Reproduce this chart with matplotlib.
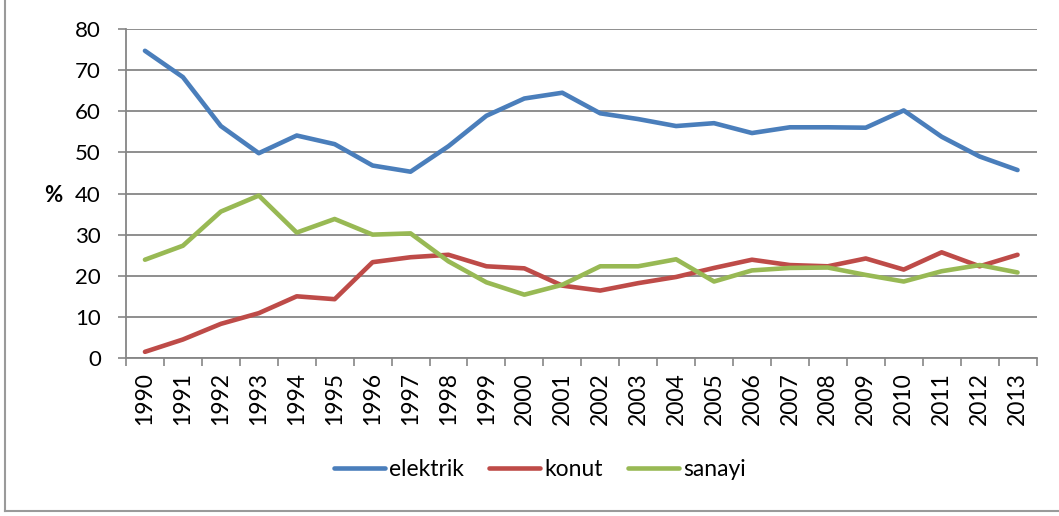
import matplotlib
matplotlib.use("Agg")
import matplotlib.pyplot as plt
from matplotlib.lines import Line2D
import numpy as np

years = [str(y) for y in range(1990, 2014)]
elektrik = [74.7, 68.3, 56.4, 49.8, 54.1, 52.0, 46.8, 45.3, 51.5, 58.9, 63.1, 64.5,
            59.5, 58.1, 56.4, 57.1, 54.7, 56.1, 56.1, 56.0, 60.2, 53.8, 49.0, 45.7]
konut = [1.5, 4.5, 8.3, 10.9, 15.0, 14.3, 23.3, 24.5, 25.1, 22.3, 21.8, 17.6,
         16.4, 18.2, 19.7, 21.9, 23.9, 22.6, 22.3, 24.2, 21.5, 25.7, 22.3, 25.1]
sanayi = [23.9, 27.3, 35.6, 39.5, 30.5, 33.8, 30.0, 30.3, 23.5, 18.4, 15.4, 17.8,
          22.3, 22.3, 24.0, 18.6, 21.3, 21.9, 22.0, 20.2, 18.6, 21.1, 22.6, 20.8]

series = [("elektrik", elektrik, "#4A7EBB"),
          ("konut", konut, "#BE4B48"),
          ("sanayi", sanayi, "#98B954")]

plt.rcParams["font.family"] = ["Lato", "DejaVu Sans"]
grid_col = "#868686"

W, H = 1059, 516
fig = plt.figure(figsize=(W / 100, H / 100), dpi=100)
ax = fig.add_axes([126 / W, 1 - 358 / H, (1036.5 - 126) / W, (358 - 29) / H])

x = np.arange(len(years))
for name, vals, col in series:
    ax.plot(x, vals, color=col, lw=3.3, label=name, solid_capstyle="round",
            solid_joinstyle="round")

ax.set_xlim(-0.5, len(years) - 0.5)
ax.set_ylim(0, 80)
ax.set_yticks(range(0, 81, 10))
ax.yaxis.grid(True, color=grid_col, lw=1.3)
ax.set_axisbelow(True)
ax.tick_params(axis="y", length=6, width=1.2, color=grid_col, pad=12, labelsize=16)

ax.set_xticks(x)
ax.set_xticklabels(years, rotation=90, fontsize=16.5)
ax.set_xticks(np.arange(-0.5, len(years)), minor=True)
ax.tick_params(axis="x", which="major", length=0, pad=10)
ax.tick_params(axis="x", which="minor", length=6, width=1.2, color=grid_col)

for s in ["top", "right"]:
    ax.spines[s].set_visible(False)
for s in ["left", "bottom"]:
    ax.spines[s].set_color(grid_col)
    ax.spines[s].set_linewidth(1.3)

fig.text(53 / W, 1 - 196 / H, "%", ha="center", va="center", fontsize=16,
         fontweight="bold")

fig.legend(loc="center", bbox_to_anchor=(540 / W, 1 - 470 / H), ncol=3,
           frameon=False, fontsize=16.5, handlelength=2.2, handletextpad=0.2,
           columnspacing=1.1)

# outer chart border (left and bottom visible)
fig.add_artist(Line2D([5 / W, 5 / W], [1 - 511 / H, 1], transform=fig.transFigure,
                      color="#9A9A9A", lw=1.5))
fig.add_artist(Line2D([5 / W, 1], [1 - 511 / H, 1 - 511 / H], transform=fig.transFigure,
                      color="#9A9A9A", lw=1.5))

fig.savefig("out.png", dpi=100)
